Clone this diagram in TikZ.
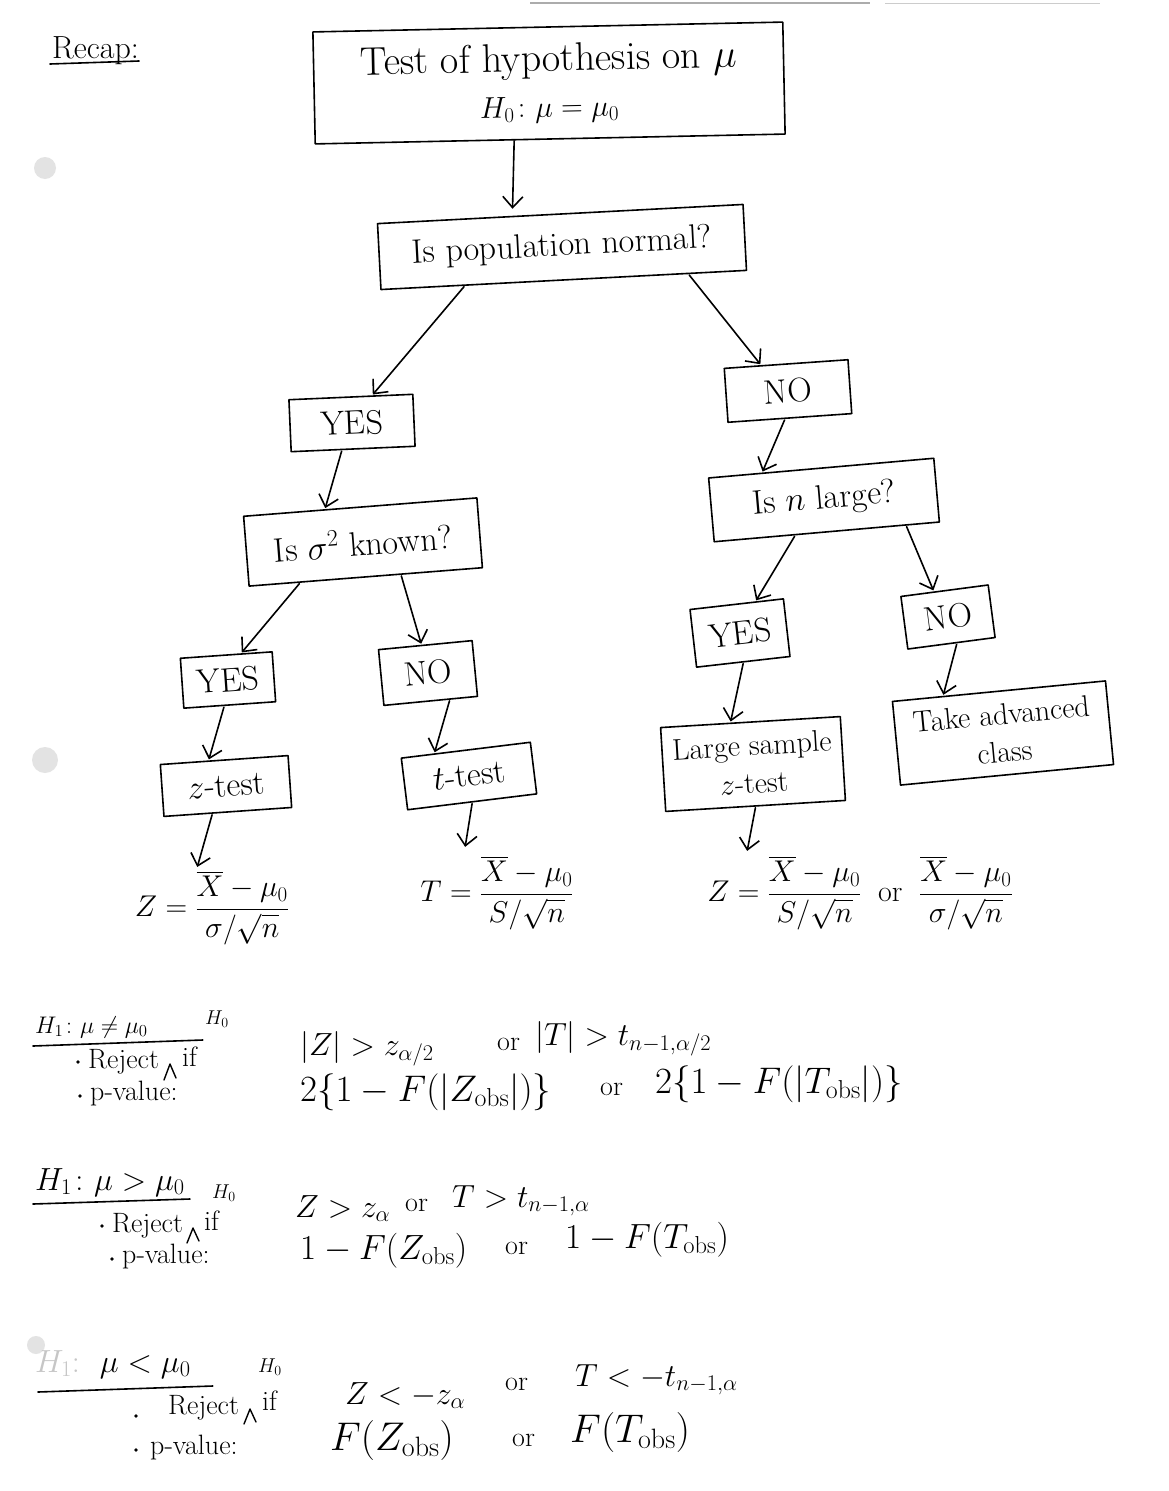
\RequirePackage{fix-cm}
\documentclass[tikz,border=0pt]{standalone}
\usepackage{amsmath}
\usepackage{fontspec}
\usetikzlibrary{arrows.meta,calc}

\newcommand\fsz[2]{\fontsize{#1}{#2}\selectfont}

\tikzset{
  pen/.style={line width=1.6pt, line cap=round, line join=round},
  box/.style={pen, draw, rectangle, inner sep=0pt, align=center, font=\fsz{34}{40}},
  arr/.style={pen, -{Straight Barb[length=11pt,width=20pt]}, shorten <=1pt, shorten >=1pt},
  fml/.style={inner sep=0pt, font=\fsz{30}{36}},
  txt/.style={inner sep=0pt, anchor=base west, font=\fsz{28}{34}},
  mth/.style={inner sep=0pt, anchor=base west, font=\fsz{32}{38}},
  ins/.style={inner sep=0pt, anchor=base west, font=\fsz{20}{24}},
  caret/.style={line width=1.4pt, line cap=round, line join=round},
  hole/.style={fill=gray!22},
}

\begin{document}
\begin{tikzpicture}[x=1pt,y=-1pt]
\path[use as bounding box, fill=white] (0,0) rectangle (1168,1491);

% scanner marks along the top edge and punch holes on the left
\draw[gray!65, line width=1.2pt] (530,3) -- (870,3);
\draw[gray!40, line width=1pt] (885,3) -- (1100,3);
\fill[hole] (45,168) circle (11);
\fill[hole] (45,760) circle (13);
\fill[hole] (36,1345) circle (9);

% title
\node[txt, font=\fsz{32}{38}] (recap) at (52,58) {Recap:};
\draw[pen] ([xshift=-2pt,yshift=-6pt]recap.base west) -- ([yshift=-3pt]recap.base east);

% decision boxes
\node[box, minimum width=470pt, minimum height=112pt, rotate=1.2] (top) at (549,83)
  {\fsz{40}{46}Test of hypothesis on $\mu$\\[6pt]\fsz{30}{36}$H_0\colon \mu=\mu_0$};
\node[box, minimum width=366pt, minimum height=66pt, rotate=3] (pop) at (562,247) {Is population normal?};
\node[box, minimum width=124pt, minimum height=52pt, rotate=2.5] (yesA) at (352,423) {YES};
\node[box, minimum width=124pt, minimum height=54pt, rotate=4] (noA) at (788,391) {NO};
\node[box, minimum width=234pt, minimum height=70pt, rotate=4.5] (sig) at (363,542) {Is $\sigma^2$ known?};
\node[box, minimum width=226pt, minimum height=64pt, rotate=5] (large) at (824,500) {Is $n$ large?};
\node[box, minimum width=92pt, minimum height=50pt, rotate=4] (yesB) at (228,680) {YES};
\node[box, minimum width=94pt, minimum height=56pt, rotate=5.5] (noB) at (428,673) {NO};
\node[box, minimum width=94pt, minimum height=58pt, rotate=6.5] (yesC) at (740,633) {YES};
\node[box, minimum width=88pt, minimum height=53pt, rotate=7.5] (noC) at (948,617) {NO};
\node[box, minimum width=128pt, minimum height=52pt, rotate=4] (ztest) at (226,786) {$z$-test};
\node[box, minimum width=130pt, minimum height=52pt, rotate=7] (ttest) at (469,776) {$t$-test};
\node[box, minimum width=180pt, minimum height=84pt, rotate=3.5, font=\fsz{30}{38}] (lsz) at (753,764) {Large sample\\$z$-test};
\node[box, minimum width=214pt, minimum height=84pt, rotate=5.5, font=\fsz{30}{38}] (adv) at (1003,733) {Take advanced\\class};

% test statistics
\node[fml] (zf) at (212,908) {$Z = \dfrac{\overline{X}-\mu_0}{\sigma/\sqrt{n}}$};
\node[fml] (tf) at (497,893) {$T = \dfrac{\overline{X}-\mu_0}{S/\sqrt{n}}$};
\node[fml] (lf) at (860,893) {$Z = \dfrac{\overline{X}-\mu_0}{S/\sqrt{n}}\;\;\text{or}\;\;\dfrac{\overline{X}-\mu_0}{\sigma/\sqrt{n}}$};

% connectors
\draw[arr] ([xshift=-36pt]top.south) -- ($(pop.north west)!0.37!(pop.north east)+(0,-6)$);
\draw[arr] ($(pop.south west)!0.23!(pop.south east)$) -- ($(yesA.north west)!0.67!(yesA.north east)$);
\draw[arr] ($(pop.south west)!0.84!(pop.south east)$) -- ($(noA.north west)!0.30!(noA.north east)$);
\draw[arr] ($(yesA.south west)!0.41!(yesA.south east)$) -- ($(sig.north west)!0.35!(sig.north east)$);
\draw[arr] ($(noA.south west)!0.46!(noA.south east)$) -- ($(large.north west)!0.24!(large.north east)$);
\draw[arr] ($(sig.south west)!0.22!(sig.south east)$) -- ($(yesB.north west)!0.66!(yesB.north east)$);
\draw[arr] ($(sig.south west)!0.65!(sig.south east)$) -- ($(noB.north west)!0.46!(noB.north east)$);
\draw[arr] ($(large.south west)!0.36!(large.south east)$) -- ($(yesC.north west)!0.70!(yesC.north east)$);
\draw[arr] ($(large.south west)!0.85!(large.south east)$) -- ($(noC.north west)!0.38!(noC.north east)$);
\draw[arr] ($(yesB.south west)!0.44!(yesB.south east)$) -- ($(ztest.north west)!0.38!(ztest.north east)$);
\draw[arr] ($(noB.south west)!0.70!(noB.south east)$) -- ($(ttest.north west)!0.26!(ttest.north east)$);
\draw[arr] ($(yesC.south west)!0.50!(yesC.south east)$) -- ($(lsz.north west)!0.39!(lsz.north east)$);
\draw[arr] ($(noC.south west)!0.56!(noC.south east)$) -- ($(adv.north west)!0.24!(adv.north east)$);
\draw[arr] ($(ztest.south west)!0.38!(ztest.south east)$) -- ([xshift=-15pt,yshift=3pt]zf.north);
\draw[arr] ($(ttest.south west)!0.50!(ttest.south east)$) -- ([xshift=-32pt,yshift=8pt]tf.north);
\draw[arr] ($(lsz.south west)!0.50!(lsz.south east)$) -- ([xshift=-113pt,yshift=4pt]lf.north);

% ---- two-sided alternative
\node[txt, font=\fsz{24}{28}] (hA) at (35,1033) {$H_1\colon \mu\neq\mu_0$};
\node[ins] (hA0) at (205,1024) {$H_0$};
\draw[pen] ([xshift=-2pt,yshift=-13pt]hA.base west) -- ([xshift=55pt,yshift=-7pt]hA.base east);
\fill (78,1062) circle (1.8);
\node[txt] (rA) at (88,1068) {Reject};
\draw[caret] (164,1080) -- (170,1064) -- (176,1078);
\node[txt] (ifA) at (182,1066) {if};
\node[mth] (zA) at (300,1055) {$|Z|>z_{\alpha/2}$};
\node[txt] (orA) at (497,1050) {or};
\node[mth] (tA) at (535,1045) {$|T|>t_{n-1,\alpha/2}$};
\fill (80,1096) circle (1.8);
\node[txt] (pA) at (90,1100) {p-value:};
\node[mth, font=\fsz{37}{42}] (pzA) at (300,1101) {$2\{1-F(|Z_{\mathrm{obs}}|)\}$};
\node[txt] (orA2) at (600,1095) {or};
\node[mth, font=\fsz{37}{42}] (ptA) at (655,1093) {$2\{1-F(|T_{\mathrm{obs}}|)\}$};

% ---- right-sided alternative
\node[mth] (hB) at (35,1190) {$H_1\colon \mu>\mu_0$};
\node[ins] (hB0) at (212,1198) {$H_0$};
\draw[pen] ([xshift=-2pt,yshift=-14pt]hB.base west) -- ([xshift=5pt,yshift=-9pt]hB.base east);
\fill (102,1226) circle (1.8);
\node[txt] (rB) at (112,1232) {Reject};
\draw[caret] (187,1243) -- (193,1228) -- (199,1241);
\node[txt] (ifB) at (204,1230) {if};
\node[mth] (zB) at (295,1217) {$Z>z_\alpha$};
\node[txt] (orB) at (405,1211) {or};
\node[mth] (tB) at (452,1207) {$T>t_{n-1,\alpha}$};
\fill (112,1259) circle (1.8);
\node[txt] (pB) at (122,1263) {p-value:};
\node[mth, font=\fsz{35}{40}] (pzB) at (300,1259) {$1-F(Z_{\mathrm{obs}})$};
\node[txt] (orB2) at (505,1254) {or};
\node[mth, font=\fsz{35}{40}] (ptB) at (565,1248) {$1-F(T_{\mathrm{obs}})$};

% ---- left-sided alternative
\node[mth] (hC) at (35,1372) {\textcolor{gray!45}{$H_1$:}\hspace{20pt}$\mu<\mu_0$};
\node[ins] (hC0) at (258,1372) {$H_0$};
\draw[pen] ([xshift=3pt,yshift=-20pt]hC.base west) -- ([xshift=22pt,yshift=-14pt]hC.base east);
\fill (136,1416) circle (1.8);
\node[txt] (rC) at (168,1414) {Reject};
\draw[caret] (244,1424) -- (250,1409) -- (256,1422);
\node[txt] (ifC) at (262,1410) {if};
\node[mth] (zC) at (345,1404) {$Z<-z_\alpha$};
\node[txt] (orC) at (505,1390) {or};
\node[mth] (tC) at (575,1386) {$T<-t_{n-1,\alpha}$};
\fill (136,1450) circle (1.8);
\node[txt] (pC) at (150,1454) {p-value:};
\node[mth, font=\fsz{40}{46}] (pzC) at (330,1450) {$F(Z_{\mathrm{obs}})$};
\node[txt] (orC2) at (512,1446) {or};
\node[mth, font=\fsz{40}{46}] (ptC) at (570,1442) {$F(T_{\mathrm{obs}})$};
\end{tikzpicture}
\end{document}
